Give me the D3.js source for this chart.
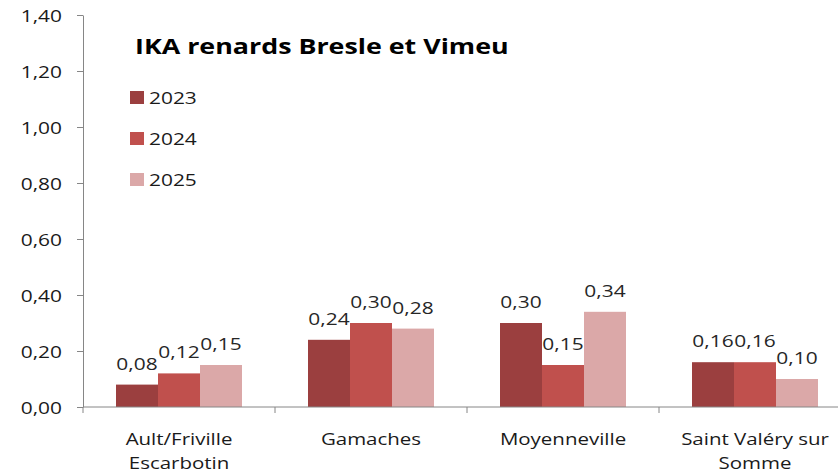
<!DOCTYPE html>
<html>
<head>
<meta charset="utf-8">
<script src="https://cdn.jsdelivr.net/npm/d3@7"></script>
<style>
  body { margin: 0; background: #fff; }
  svg text { font-family: "Open Sans", sans-serif; }
</style>
</head>
<body>
<div id="chart"></div>
<script>
const sites = ['Ault/Friville Escarbotin', 'Gamaches', 'Moyenneville', 'Saint Valéry sur Somme']
const siteLines = [['Ault/Friville', 'Escarbotin'], ['Gamaches'], ['Moyenneville'], ['Saint Valéry sur', 'Somme']]
const years = ['2023', '2024', '2025']
const ika2023 = [0.08, 0.24, 0.30, 0.16]
const ika2024 = [0.12, 0.30, 0.15, 0.16]
const ika2025 = [0.15, 0.28, 0.34, 0.10]
const yTicks = [0, 0.2, 0.4, 0.6, 0.8, 1.0, 1.2, 1.4]
const colors = ['#9b3f3f', '#c0504d', '#dba8a8']

const width = 838, height = 474
const plotL = 83, plotR = 851, plotT = 15, plotB = 407
const sx = 1.23 // the source picture is stretched sideways
const fmt = v => v.toFixed(2).replace('.', ',')
const place = (x, y, k) => `translate(${x},${y}) scale(${k || sx},1)`

const rows = sites.map((s, i) => ({ site: s, vals: [ika2023[i], ika2024[i], ika2025[i]] }))

const svg = d3.select('#chart').append('svg')
  .attr('width', width)
  .attr('height', height)

const p = 66 / 192
const x0 = d3.scaleBand().domain(sites).range([plotL, plotR]).paddingInner(p).paddingOuter(p / 2)
const x1 = d3.scaleBand().domain(years).range([0, x0.bandwidth()])
const y = d3.scaleLinear().domain([0, 1.4]).range([plotB, plotT])

// y axis
const yAxis = d3.axisLeft(y).tickValues(yTicks).tickFormat(fmt).tickSize(6).tickSizeOuter(0)
const gy = svg.append('g').attr('transform', `translate(${plotL},0)`).call(yAxis)
gy.select('.domain').attr('stroke', '#868686')
gy.selectAll('.tick line').attr('stroke', '#868686')
gy.selectAll('.tick text')
  .attr('x', null).attr('dy', null).attr('y', 6)
  .attr('transform', place(-21, 0))
  .attr('fill', '#1a1a1a')
  .style('font-size', '17px')

// bars
const groups = svg.selectAll('.grp').data(rows).enter().append('g')
  .attr('class', 'grp')
  .attr('transform', d => `translate(${x0(d.site)},0)`)

groups.selectAll('rect').data(d => d.vals).enter().append('rect')
  .attr('x', (d, i) => x1(years[i]))
  .attr('y', d => y(d))
  .attr('width', x1.bandwidth())
  .attr('height', d => plotB - y(d))
  .attr('fill', (d, i) => colors[i])

groups.selectAll('.lbl').data(d => d.vals).enter().append('text')
  .attr('class', 'lbl')
  .attr('transform', (d, i) => place(x1(years[i]) + x1.bandwidth() / 2, y(d) - 15))
  .attr('text-anchor', 'middle')
  .attr('fill', '#262626')
  .style('font-size', '17px')
  .text(d => fmt(d))

// x axis
const step = x0.step()
svg.append('line')
  .attr('x1', plotL).attr('x2', plotR)
  .attr('y1', plotB).attr('y2', plotB)
  .attr('stroke', '#868686')
const bounds = sites.map(s => x0(s) - step * p / 2).concat([plotR])
svg.selectAll('.xtick').data(bounds).enter().append('line')
  .attr('class', 'xtick')
  .attr('x1', d => d).attr('x2', d => d)
  .attr('y1', plotB).attr('y2', plotB + 6)
  .attr('stroke', '#868686')

const catLines = []
siteLines.forEach((lines, i) => lines.forEach((l, j) => catLines.push({ i, j, l })))
svg.selectAll('.xlbl').data(catLines).enter().append('text')
  .attr('class', 'xlbl')
  .attr('transform', d => place(x0(sites[d.i]) + x0.bandwidth() / 2, 445 + d.j * 24, 1.28))
  .attr('text-anchor', 'middle')
  .attr('fill', '#1a1a1a')
  .style('font-size', '16px')
  .text(d => d.l)

// title
svg.append('text')
  .attr('transform', place(135, 54, 1.22))
  .attr('fill', '#000')
  .style('font-size', '22px')
  .style('font-weight', 'bold')
  .text('IKA renards Bresle et Vimeu')

// legend
const legend = svg.selectAll('.leg').data(years).enter().append('g')
  .attr('class', 'leg')
  .attr('transform', (d, i) => `translate(130, ${91 + i * 41})`)
legend.append('rect')
  .attr('width', 14).attr('height', 13)
  .attr('fill', (d, i) => colors[i])
legend.append('text')
  .attr('transform', place(19, 13))
  .attr('fill', '#1a1a1a')
  .style('font-size', '17px')
  .text(d => d)
</script>
</body>
</html>
